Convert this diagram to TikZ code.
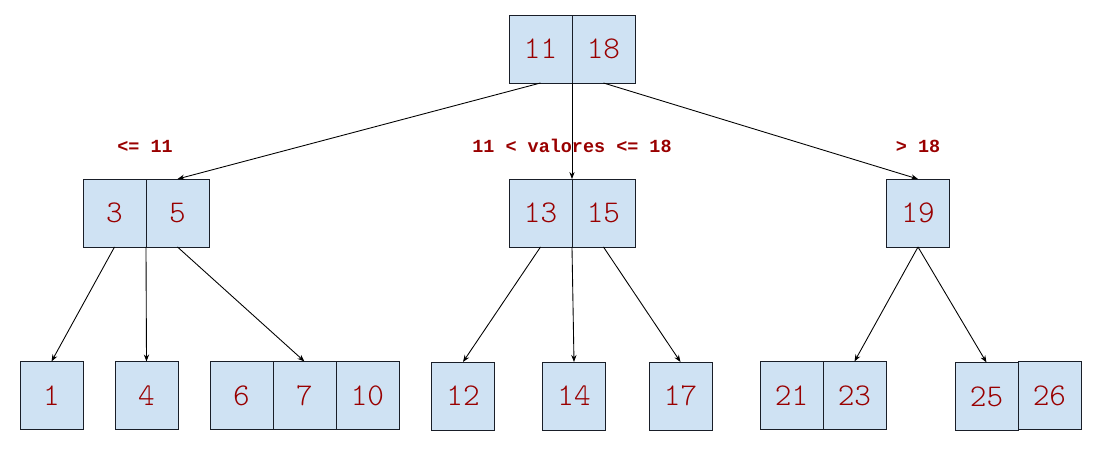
\documentclass[tikz,border=0pt]{standalone}
\usepackage{fontspec}
\setmonofont{Liberation Mono}
\newfontfamily\cellfont{Latin Modern Mono Light}
\usetikzlibrary{positioning, arrows.meta}
\definecolor{myBlue}{RGB}{207,226,243}
\definecolor{myRed}{RGB}{153,0,0}
\definecolor{myEdge}{RGB}{25,30,40}

\begin{document}
\begin{tikzpicture}[x=0.02cm, y=-0.02cm,
  cell/.style={draw=myEdge, fill=myBlue, line width=0.5pt, minimum width=1.26cm,
    minimum height=1.36cm, inner sep=0pt, outer sep=0pt,
    font=\cellfont\fontsize{18}{20}\selectfont, text=myRed},
  lbl/.style={font=\ttfamily\bfseries\fontsize{10.5}{12}\selectfont, text=myRed},
  link/.style={-{Stealth[length=4pt, width=3pt]}, line width=0.5pt, black},
]
  \useasboundingbox (0,0) rectangle (1103,449);
  \node[cell] (n11) at (540.5,49) {11};
  \node[cell, right=0pt of n11] (n18) {18};

  \node[cell] (n3) at (114.5,213) {3};
  \node[cell, right=0pt of n3] (n5) {5};
  \node[cell] (n13) at (540.5,213) {13};
  \node[cell, right=0pt of n13] (n15) {15};
  \node[cell] (n19) at (918,213) {19};

  \node[cell] (n1) at (51.5,395.5) {1};
  \node[cell] (n4) at (146.5,395.5) {4};
  \node[cell] (n6) at (241.5,395.5) {6};
  \node[cell, right=0pt of n6] (n7) {7};
  \node[cell, right=0pt of n7] (n10) {10};
  \node[cell] (n12) at (463,396) {12};
  \node[cell] (n14) at (574,396) {14};
  \node[cell] (n17) at (680.5,396) {17};
  \node[cell] (n21) at (791.5,395.5) {21};
  \node[cell, right=0pt of n21] (n23) {23};
  \node[cell] (n25) at (986.5,396.5) {25};
  \node[cell, right=0pt of n25, yshift=0.02cm] (n26) {26};

  \node[lbl] (lblLe) at (145,146) {<= 11};
  \node[lbl] (lblMid) at (572,146) {11 < valores <= 18};
  \node[lbl] (lblGt) at (918,146) {> 18};

  \draw[link] (n11.south) -- (n5.north);
  \draw[link] (n11.south east) -- (n13.north east);
  \draw[link] (n18.south) -- (n19.north);

  \draw[link] (n3.south) -- (n1.north);
  \draw[link] (n3.south east) -- (n4.north);
  \draw[link] (n5.south) -- (n7.north);
  \draw[link] (n13.south) -- (n12.north);
  \draw[link] (n13.south east) -- (n14.north);
  \draw[link] (n15.south) -- (n17.north);
  \draw[link] (n19.south) -- (n23.north);
  \draw[link] (n19.south) -- (n25.north);
\end{tikzpicture}
\end{document}
